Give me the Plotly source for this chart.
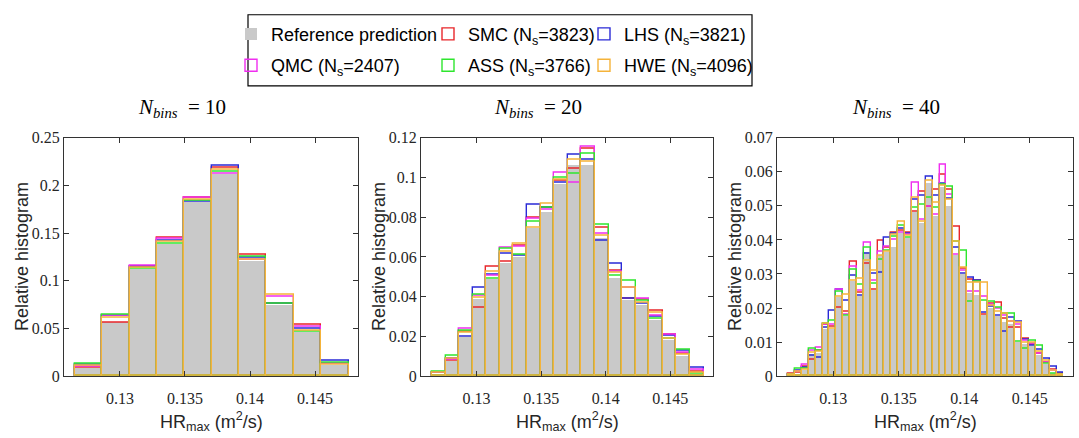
import numpy as np
import plotly.graph_objects as go

# ---------------- data ----------------
hr_lo = 0.12655          # lower edge of histogram support
hr_hi = 0.14757          # upper edge of histogram support
n_bins = [10, 20, 40]

x_tick_vals = [0.13, 0.135, 0.14, 0.145]
x_tick_text = ["0.13", "0.135", "0.14", "0.145"]
y_max = [0.25, 0.12, 0.07]
y_step = [0.05, 0.02, 0.01]

series_names = ["Reference prediction", "SMC (N<sub>s</sub>=3823)", "LHS (N<sub>s</sub>=3821)",
                "QMC (N<sub>s</sub>=2407)", "ASS (N<sub>s</sub>=3766)", "HWE (N<sub>s</sub>=4096)"]

ref10 = [0.0085, 0.0570, 0.1130, 0.1390, 0.1825, 0.2120, 0.1210, 0.0750, 0.0470, 0.0124]
smc10 = [0.0092, 0.0562, 0.1150, 0.1450, 0.1868, 0.2184, 0.1277, 0.0756, 0.0534, 0.0135]
lhs10 = [0.0120, 0.0638, 0.1148, 0.1422, 0.1825, 0.2204, 0.1240, 0.0756, 0.0497, 0.0165]
qmc10 = [0.0095, 0.0630, 0.1156, 0.1440, 0.1866, 0.2127, 0.1225, 0.0834, 0.0514, 0.0130]
ass10 = [0.0126, 0.0642, 0.1129, 0.1388, 0.1840, 0.2147, 0.1257, 0.0760, 0.0470, 0.0141]
hwe10 = [0.0105, 0.0612, 0.1135, 0.1410, 0.1848, 0.2167, 0.1216, 0.0854, 0.0480, 0.0124]

ref20 = [0.0013, 0.0075, 0.0197, 0.0390, 0.0490, 0.0570, 0.0600, 0.0745, 0.0830, 0.0970,
         0.1065, 0.1063, 0.0695, 0.0495, 0.0385, 0.0360, 0.0285, 0.0185, 0.0102, 0.0012]
smc20 = [0.0018, 0.0077, 0.0225, 0.0343, 0.0553, 0.0575, 0.0657, 0.0797, 0.0850, 0.0985,
         0.1044, 0.1144, 0.0749, 0.0532, 0.0390, 0.0385, 0.0329, 0.0209, 0.0113, 0.0024]
lhs20 = [0.0016, 0.0085, 0.0198, 0.0443, 0.0512, 0.0615, 0.0604, 0.0865, 0.0850, 0.0975,
         0.1116, 0.1090, 0.0680, 0.0564, 0.0390, 0.0362, 0.0300, 0.0205, 0.0126, 0.0040]
qmc20 = [0.0017, 0.0080, 0.0237, 0.0406, 0.0503, 0.0648, 0.0652, 0.0790, 0.0838, 0.1026,
         0.0975, 0.1155, 0.0717, 0.0525, 0.0443, 0.0390, 0.0306, 0.0209, 0.0118, 0.0032]
ass20 = [0.0024, 0.0101, 0.0226, 0.0411, 0.0491, 0.0640, 0.0612, 0.0776, 0.0846, 0.0999,
         0.1021, 0.1120, 0.0760, 0.0503, 0.0480, 0.0379, 0.0287, 0.0188, 0.0134, 0.0011]
hwe20 = [0.0015, 0.0090, 0.0217, 0.0395, 0.0524, 0.0628, 0.0667, 0.0747, 0.0870, 0.0990,
         0.1087, 0.1080, 0.0705, 0.0520, 0.0443, 0.0370, 0.0319, 0.0190, 0.0110, 0.0015]

ref40 = [0.0002, 0.0008, 0.0020, 0.0066, 0.0068, 0.0140, 0.0140, 0.0233, 0.0177, 0.0281,
         0.0237, 0.0365, 0.0253, 0.0355, 0.0365, 0.0380, 0.0420, 0.0405, 0.0484, 0.0450,
         0.0568, 0.0470, 0.0556, 0.0500, 0.0357, 0.0300, 0.0245, 0.0238, 0.0180, 0.0200,
         0.0178, 0.0160, 0.0155, 0.0100, 0.0095, 0.0090, 0.0063, 0.0035, 0.0010, 0.0003]
smc40 = [0.0006, 0.0010, 0.0027, 0.0049, 0.0075, 0.0150, 0.0145, 0.0201, 0.0190, 0.0335,
         0.0246, 0.0331, 0.0253, 0.0399, 0.0377, 0.0420, 0.0427, 0.0420, 0.0484, 0.0540,
         0.0496, 0.0548, 0.0592, 0.0547, 0.0439, 0.0314, 0.0284, 0.0280, 0.0180, 0.0214,
         0.0215, 0.0168, 0.0142, 0.0142, 0.0110, 0.0093, 0.0067, 0.0039, 0.0020, 0.0007]
lhs40 = [0.0004, 0.0015, 0.0025, 0.0060, 0.0054, 0.0143, 0.0192, 0.0253, 0.0220, 0.0294,
         0.0237, 0.0360, 0.0300, 0.0305, 0.0405, 0.0418, 0.0432, 0.0418, 0.0517, 0.0530,
         0.0586, 0.0529, 0.0564, 0.0520, 0.0377, 0.0302, 0.0288, 0.0280, 0.0187, 0.0204,
         0.0178, 0.0131, 0.0170, 0.0161, 0.0107, 0.0090, 0.0076, 0.0051, 0.0027, 0.0011]
qmc40 = [0.0003, 0.0013, 0.0034, 0.0075, 0.0084, 0.0150, 0.0152, 0.0253, 0.0180, 0.0322,
         0.0250, 0.0391, 0.0280, 0.0366, 0.0380, 0.0400, 0.0422, 0.0415, 0.0569, 0.0458,
         0.0498, 0.0474, 0.0620, 0.0533, 0.0357, 0.0310, 0.0247, 0.0248, 0.0234, 0.0210,
         0.0197, 0.0177, 0.0160, 0.0150, 0.0103, 0.0095, 0.0067, 0.0040, 0.0015, 0.0003]
ass40 = [0.0004, 0.0021, 0.0022, 0.0079, 0.0074, 0.0154, 0.0162, 0.0247, 0.0177, 0.0312,
         0.0269, 0.0377, 0.0272, 0.0342, 0.0369, 0.0410, 0.0441, 0.0406, 0.0493, 0.0503,
         0.0524, 0.0493, 0.0561, 0.0557, 0.0395, 0.0367, 0.0218, 0.0278, 0.0222, 0.0217,
         0.0201, 0.0183, 0.0183, 0.0100, 0.0081, 0.0104, 0.0090, 0.0035, 0.0008, 0.0003]
hwe40 = [0.0003, 0.0012, 0.0020, 0.0070, 0.0072, 0.0154, 0.0140, 0.0234, 0.0239, 0.0281,
         0.0286, 0.0338, 0.0310, 0.0354, 0.0366, 0.0415, 0.0453, 0.0412, 0.0524, 0.0453,
         0.0575, 0.0509, 0.0558, 0.0518, 0.0394, 0.0317, 0.0274, 0.0273, 0.0273, 0.0206,
         0.0190, 0.0183, 0.0160, 0.0156, 0.0098, 0.0098, 0.0072, 0.0044, 0.0015, 0.0003]

panels = [
    [ref10, smc10, lhs10, qmc10, ass10, hwe10],
    [ref20, smc20, lhs20, qmc20, ass20, hwe20],
    [ref40, smc40, lhs40, qmc40, ass40, hwe40],
]

# ---------------- style ----------------
W, H = 1079, 438
def px(x):
    return x / W
def py(y):
    return 1 - y / H

colors = ["#c9c9c9", "#e8262a", "#2a2ad6", "#f02ef0", "#2ee62e", "#f5b33a"]
legend_of = ["legend", "legend2", "legend3", "legend", "legend2", "legend3"]
x_dom = [(64, 358), (421, 713), (777, 1073)]
y_dom = (py(383), py(135))
serif = "Liberation Serif"
sans = "Liberation Sans"
ink = "#262626"

fig = go.Figure()

for p, (nb, data) in enumerate(zip(n_bins, panels)):
    edges = np.linspace(hr_lo, hr_hi, nb + 1)
    centers = 0.5 * (edges[:-1] + edges[1:])
    bw = edges[1] - edges[0]
    sfx = "" if p == 0 else str(p + 1)
    for s, vals in enumerate(data):
        if s == 0:
            marker = dict(color=colors[0], line=dict(width=0))
        else:
            marker = dict(color="rgba(0,0,0,0)", line=dict(color=colors[s], width=1.4))
        fig.add_trace(go.Bar(
            x=centers, y=vals, width=bw, marker=marker,
            name=series_names[s], legendgroup=series_names[s],
            showlegend=(p == 0), legend=legend_of[s],
            xaxis="x" + sfx, yaxis="y" + sfx,
        ))

axis_common = dict(showline=True, linecolor="#333333", linewidth=1, mirror="ticks",
                   ticks="inside", ticklen=5, tickcolor="#333333", showgrid=False,
                   zeroline=False, tickfont=dict(family=serif, size=16, color=ink))

layout = dict(
    width=W, height=H, margin=dict(l=0, r=0, t=0, b=0),
    paper_bgcolor="white", plot_bgcolor="white",
    barmode="overlay", bargap=0,
)
for p in range(3):
    sfx = "" if p == 0 else str(p + 1)
    layout["xaxis" + sfx] = dict(axis_common, domain=[px(x_dom[p][0]), px(x_dom[p][1])],
                                 range=[0.1257, 0.1483], tickvals=x_tick_vals,
                                 ticktext=x_tick_text, anchor="y" + sfx,
                                 ticklabelstandoff=8)
    layout["yaxis" + sfx] = dict(axis_common, domain=list(y_dom), range=[0, y_max[p]],
                                 tick0=0, dtick=y_step[p], anchor="x" + sfx)

leg_common = dict(orientation="v", xanchor="left", yanchor="top", y=py(8),
                  bgcolor="rgba(0,0,0,0)", borderwidth=0, itemwidth=30,
                  font=dict(family=sans, size=18, color="black"),
                  traceorder="grouped", tracegroupgap=5,
                  itemclick=False, itemdoubleclick=False)
layout["legend"] = dict(leg_common, x=px(231))
layout["legend2"] = dict(leg_common, x=px(428))
layout["legend3"] = dict(leg_common, x=px(584))
layout["shapes"] = [dict(type="rect", xref="paper", yref="paper",
                         x0=px(248), x1=px(752), y0=py(81), y1=py(7),
                         line=dict(color="black", width=1.2), fillcolor="rgba(0,0,0,0)")]

annotations = []
title_x = [182, 538, 896]
for p in range(3):
    cx = 0.5 * (x_dom[p][0] + x_dom[p][1])
    annotations.append(dict(text=f"<i>N</i><sub><i>bins</i></sub>  = {n_bins[p]}",
                            x=px(title_x[p]), y=py(104), xref="paper", yref="paper",
                            xanchor="center", yanchor="middle", showarrow=False,
                            font=dict(family=serif, size=21, color="black")))
    annotations.append(dict(text="Relative histogram", textangle=-90,
                            x=px(x_dom[p][0] - 42), y=py(259), xref="paper", yref="paper",
                            xanchor="center", yanchor="middle", showarrow=False,
                            font=dict(family=sans, size=18, color=ink)))
    annotations.append(dict(text="HR<sub>max</sub> (m<sup>2</sup>/s)",
                            x=px(cx), y=py(430), xref="paper", yref="paper",
                            xanchor="center", yanchor="middle", showarrow=False,
                            font=dict(family=sans, size=18, color=ink)))
layout["annotations"] = annotations

fig.update_layout(**layout)
fig.write_html("out.html")
